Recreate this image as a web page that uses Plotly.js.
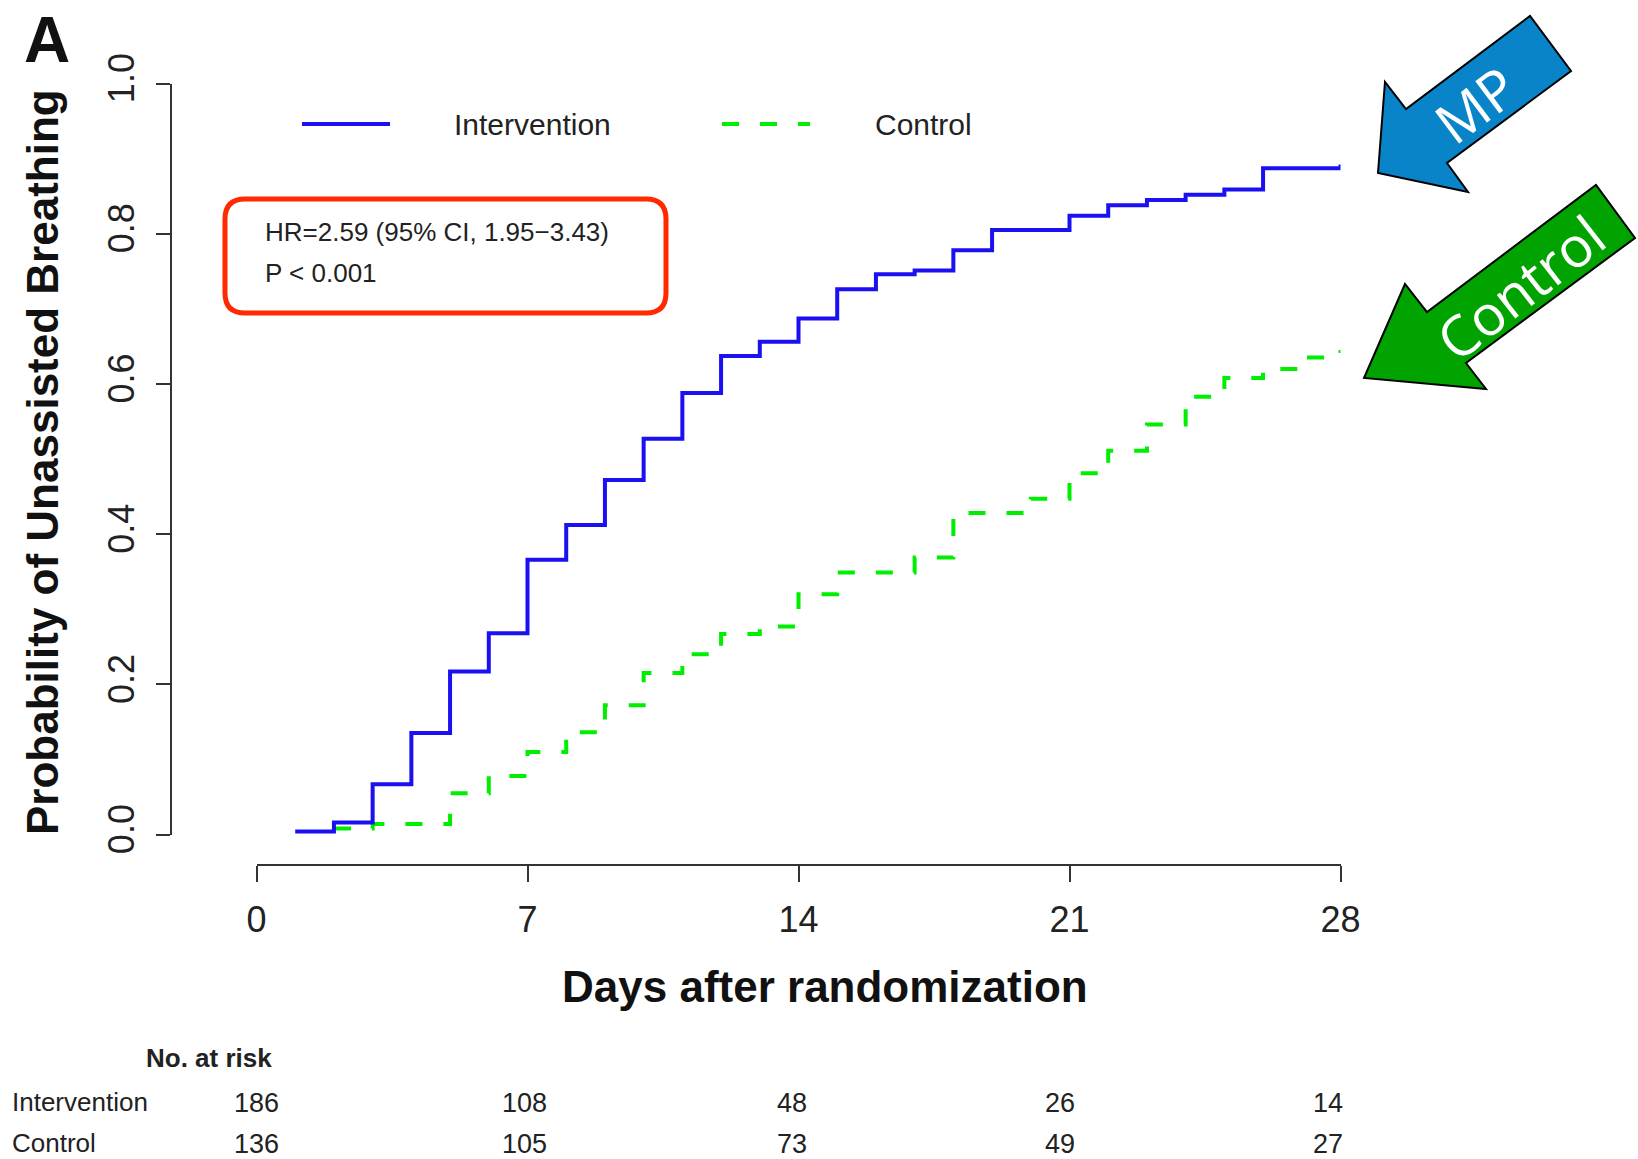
<!DOCTYPE html>
<html>
<head>
<meta charset="utf-8">
<script src="https://cdn.plot.ly/plotly-3.0.1.min.js"></script>
<style>html,body{margin:0;padding:0;background:#fff;}#chart{width:1638px;height:1159px;}</style>
</head>
<body>
<div id="chart"></div>
<script>
// ---- data ----
const daysIntervention = [1,2,3,4,5,6,7,8,9,10,11,12,13,14,15,16,17,18,19,21,22,23,24,25,26,28];
const probIntervention = [0.004,0.016,0.067,0.135,0.217,0.268,0.366,0.412,0.472,0.527,0.588,0.637,0.656,0.687,0.726,0.746,0.751,0.778,0.805,0.824,0.838,0.845,0.852,0.859,0.887,0.892];
const daysControl = [2,3,5,6,7,8,9,10,11,12,13,14,15,17,18,20,21,22,23,24,25,26,27,28];
const probControl = [0.008,0.014,0.055,0.078,0.110,0.136,0.172,0.215,0.240,0.267,0.277,0.320,0.349,0.369,0.428,0.447,0.481,0.511,0.546,0.583,0.608,0.620,0.635,0.645];
const xTickVals = [0,7,14,21,28];
const yTickVals = [0,0.2,0.4,0.6,0.8,1.0];
const yTickText = ['0.0','0.2','0.4','0.6','0.8','1.0'];
const riskDays = [0,7,14,21,28];
const riskIntervention = [186,108,48,26,14];
const riskControl = [136,105,73,49,27];
const seriesNames = ['Intervention','Control'];

// ---- layout helpers (pixel -> paper) ----
const W = 1638, H = 1159;
const px = x => x / W;
const py = y => 1 - y / H;
const FONT = 'Liberation Sans, Arial, Helvetica, sans-serif';
const INK = '#222';
const BLUE = '#1a10f2';
const GREEN = '#00ee00';

function pathPx(pts){
  return 'M' + pts.map(p => px(p[0]).toFixed(5) + ',' + py(p[1]).toFixed(5)).join(' L') + ' Z';
}
function roundRect(x0,y0,x1,y1,r){
  const P = (x,y) => px(x).toFixed(5)+','+py(y).toFixed(5);
  return 'M'+P(x0+r,y0)+' L'+P(x1-r,y0)+' Q'+P(x1,y0)+' '+P(x1,y0+r)+
         ' L'+P(x1,y1-r)+' Q'+P(x1,y1)+' '+P(x1-r,y1)+
         ' L'+P(x0+r,y1)+' Q'+P(x0,y1)+' '+P(x0,y1-r)+
         ' L'+P(x0,y0+r)+' Q'+P(x0,y0)+' '+P(x0+r,y0)+' Z';
}

const traces = [
  {x: daysControl, y: probControl, type:'scatter', mode:'lines', name: seriesNames[1],
   line:{shape:'hv', color:GREEN, width:4, dash:'17px,21px'}, hoverinfo:'skip'},
  {x: daysIntervention, y: probIntervention, type:'scatter', mode:'lines', name: seriesNames[0],
   line:{shape:'hv', color:BLUE, width:4}, hoverinfo:'skip'}
];

const annotations = [];
function txt(text, x, y, size, opts){
  annotations.push(Object.assign({text:text, x:px(x), y:py(y), xref:'paper', yref:'paper',
    showarrow:false, font:{family:FONT, size:size, color:INK}, xanchor:'center', yanchor:'middle'}, opts||{}));
}
txt('<b>A</b>', 47, 40, 64, {font:{family:FONT, size:64, color:'#111'}});
txt('<b>Probability of Unassisted Breathing</b>', 42, 462, 44, {textangle:-90, font:{family:FONT,size:44,color:'#111'}});
txt('<b>Days after randomization</b>', 825, 986, 44, {font:{family:FONT,size:44,color:'#111'}});
txt(seriesNames[0], 452, 124, 30, {xanchor:'left'});
txt(seriesNames[1], 873, 124, 30, {xanchor:'left'});
txt('HR=2.59 (95% CI, 1.95\u22123.43)', 263, 232, 26, {xanchor:'left'});
txt('P < 0.001', 263, 273, 26, {xanchor:'left'});
txt('<b>No. at risk</b>', 209, 1058, 26);
txt(seriesNames[0], 10, 1102, 26, {xanchor:'left'});
txt(seriesNames[1], 10, 1143, 26, {xanchor:'left'});
riskDays.forEach((d,i) => {
  annotations.push({text:String(riskIntervention[i]), x:d, xref:'x', y:py(1103), yref:'paper',
    xshift:-d*0.45, showarrow:false, font:{family:FONT,size:27,color:INK}, xanchor:'center', yanchor:'middle'});
  annotations.push({text:String(riskControl[i]), x:d, xref:'x', y:py(1144), yref:'paper',
    xshift:-d*0.45, showarrow:false, font:{family:FONT,size:27,color:INK}, xanchor:'center', yanchor:'middle'});
});
// arrow labels
txt('MP', 1475, 104, 56, {textangle:-37, font:{family:'Open Sans, Noto Sans, sans-serif', size:56, color:'#fff'}});
txt('Control', 1520, 287, 56, {textangle:-38, font:{family:'Open Sans, Noto Sans, sans-serif', size:56, color:'#fff'}});

const shapes = [
  // legend keys
  {type:'line', xref:'paper', yref:'paper', x0:px(302), x1:px(390), y0:py(124), y1:py(124), line:{color:BLUE, width:4}},
  {type:'line', xref:'paper', yref:'paper', x0:px(722), x1:px(810), y0:py(124), y1:py(124), line:{color:GREEN, width:4, dash:'17px,21px'}},
  // red rounded box
  {type:'path', xref:'paper', yref:'paper', path:roundRect(225,199,666,313,20), line:{color:'#ff2a00', width:5}, fillcolor:'rgba(0,0,0,0)'},
  // MP arrow
  {type:'path', xref:'paper', yref:'paper', path:pathPx([[1378,173],[1385,82],[1406,109],[1530,16],[1571,71],[1447,163],[1468,192]]),
   fillcolor:'#0a84c9', line:{color:'#000', width:2}},
  // Control arrow
  {type:'path', xref:'paper', yref:'paper', path:pathPx([[1364,378],[1405,284],[1427,312],[1596,185],[1635,238],[1466,363],[1486,389]]),
   fillcolor:'#00a300', line:{color:'#000', width:2}}
];

const layout = {
  width: W, height: H,
  margin:{l:0,r:0,t:0,b:0,pad:0},
  paper_bgcolor:'#fff', plot_bgcolor:'rgba(0,0,0,0)',
  showlegend:false,
  xaxis:{domain:[px(256.5), px(1340.5)], range:[0,28], anchor:'free', position:py(865),
    showline:true, linecolor:'#333', linewidth:2, ticks:'outside', ticklen:16, tickwidth:2, tickcolor:'#333',
    tickmode:'array', tickvals:xTickVals, ticktext:xTickVals.map(String), ticklabelstandoff:7,
    tickfont:{family:FONT, size:36, color:INK}, showgrid:false, zeroline:false, fixedrange:true},
  yaxis:{domain:[py(834.5), py(83.5)], range:[0,1], anchor:'free', position:px(171),
    showline:true, linecolor:'#333', linewidth:2, ticks:'outside', ticklen:14, tickwidth:2, tickcolor:'#333',
    tickmode:'array', tickvals:yTickVals, ticktext:yTickText, tickangle:-90, ticklabelstandoff:8,
    tickfont:{family:FONT, size:36, color:INK}, showgrid:false, zeroline:false, fixedrange:true},
  annotations: annotations,
  shapes: shapes
};

Plotly.newPlot('chart', traces, layout, {staticPlot:true, displayModeBar:false});
</script>
</body>
</html>
